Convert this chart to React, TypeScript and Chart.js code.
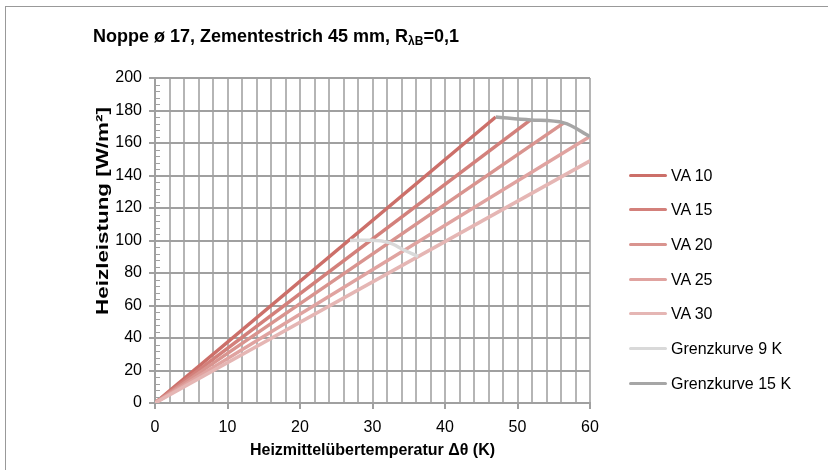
import React, { useEffect, useRef } from 'react';
import { Chart, registerables } from 'chart.js';
Chart.register(...registerables);

// Series names
const seriesNames = ['VA 10', 'VA 15', 'VA 20', 'VA 25', 'VA 30', 'Grenzkurve 9 K', 'Grenzkurve 15 K'];
const seriesColors = ['#cc6f69', '#d3807b', '#d9948f', '#e0a3a0', '#e5b6b4', '#d9d9d9', '#a6a6a6'];

// Heizmittelübertemperatur (K) / Heizleistung (W/m²)
const va10X = [0, 47];
const va10Y = [0, 176];
const va15X = [0, 51.8];
const va15Y = [0, 174.2];
const va20X = [0, 56.4];
const va20Y = [0, 172.4];
const va25X = [0, 60];
const va25Y = [0, 164];
const va30X = [0, 60];
const va30Y = [0, 149];
const grenz9X = [26.9, 29.9, 32.3, 34.4, 36.3];
const grenz9Y = [100, 100.2, 98.7, 94, 90.2];
const grenz15X = [47, 51.8, 56.4, 60];
const grenz15Y = [176, 174.2, 172.4, 164];

const xTickLabels = [0, 10, 20, 30, 40, 50, 60];
const yTickLabels = [0, 20, 40, 60, 80, 100, 120, 140, 160, 180, 200];

const FONT = "'Liberation Sans', Arial, sans-serif";

const toPts = (xs: number[], ys: number[]) => xs.map((x, i) => ({ x, y: ys[i] }));

export default function App() {
  const ref = useRef<HTMLCanvasElement | null>(null);

  useEffect(() => {
    if (!ref.current) return;
    const seriesData = [
      toPts(va10X, va10Y),
      toPts(va15X, va15Y),
      toPts(va20X, va20Y),
      toPts(va25X, va25Y),
      toPts(va30X, va30Y),
      toPts(grenz9X, grenz9Y),
      toPts(grenz15X, grenz15Y),
    ];
    const minorTicks = {
      id: 'minorTicks',
      afterDraw(chart: any) {
        const { ctx, scales } = chart;
        const y = scales.y;
        const x0 = scales.x.left;
        ctx.save();
        ctx.strokeStyle = '#a0a0a0';
        ctx.lineWidth = 1;
        for (let v = 0; v <= 200; v += 4) {
          if (v % 20 === 0) continue;
          const py = Math.round(y.getPixelForValue(v)) + 0.5;
          ctx.beginPath();
          ctx.moveTo(x0, py);
          ctx.lineTo(x0 + 5, py);
          ctx.stroke();
        }
        ctx.restore();
      },
    };
    const chart = new Chart(ref.current, {
      type: 'line',
      data: {
        datasets: seriesData.map((d, i) => ({
          label: seriesNames[i],
          data: d,
          borderColor: seriesColors[i],
          backgroundColor: seriesColors[i],
          borderWidth: 3.5,
          pointRadius: 0,
          tension: i >= 5 ? 0.35 : 0,
          cubicInterpolationMode: i >= 5 ? 'monotone' : 'default',
          fill: false,
          order: 10 - i,
        })) as any,
      },
      options: {
        animation: false,
        responsive: false,
        maintainAspectRatio: false,
        layout: { padding: { left: 0, right: 238, top: 78, bottom: 0 } },
        plugins: { legend: { display: false }, title: { display: false }, tooltip: { enabled: false } },
        scales: {
          x: {
            type: 'linear',
            min: 0,
            max: 60,
            afterFit: (s: any) => { s.height = 67; },
            ticks: {
              stepSize: 2,
              autoSkip: false,
              maxRotation: 0,
              padding: 9,
              color: '#000',
              font: { family: FONT, size: 16 },
              callback: (v: any) => (xTickLabels.includes(Number(v)) ? String(v) : ''),
            },
            grid: {
              color: '#b5b5b5',
              lineWidth: 2,
              tickLength: 6,
              tickColor: (c: any) => (c.tick && c.tick.value % 10 === 0 ? '#a0a0a0' : 'rgba(0,0,0,0)'),
            },
            border: { color: '#a0a0a0', width: 2 },
          },
          y: {
            type: 'linear',
            min: 0,
            max: 200,
            afterFit: (s: any) => { s.width = 155; },
            ticks: {
              stepSize: 4,
              autoSkip: false,
              padding: 7,
              color: '#000',
              font: { family: FONT, size: 16 },
              callback: (v: any) => (yTickLabels.includes(Number(v)) ? String(v) : ''),
            },
            grid: {
              color: (c: any) => (c.tick && c.tick.value % 20 === 0 ? '#a0a0a0' : 'rgba(0,0,0,0)'),
              lineWidth: 2,
              tickLength: 6,
              tickColor: (c: any) => (c.tick && c.tick.value % 20 === 0 ? '#a0a0a0' : 'rgba(0,0,0,0)'),
            },
            border: { color: '#a0a0a0', width: 2 },
          },
        },
      },
      plugins: [minorTicks],
    });
    return () => chart.destroy();
  }, []);

  const legendTop = 175;
  const legendStep = 34.7;

  return (
    <div style={{ position: 'fixed', left: 0, top: 0, width: 828, height: 470, overflow: 'hidden', background: '#fff', fontFamily: FONT }}>
      <div style={{ position: 'absolute', left: 5, top: 6, width: 900, height: 600, border: '1.5px solid #999' }} />
      <canvas ref={ref} width={828} height={470} style={{ position: 'absolute', left: 0, top: 0, width: 828, height: 470 }} />
      <div style={{ position: 'absolute', left: 93, top: 26, fontSize: 18, fontWeight: 'bold', lineHeight: '20px', whiteSpace: 'nowrap', color: '#000' }}>
        Noppe ø 17, Zementestrich 45 mm, R<sub style={{ fontSize: 12, verticalAlign: '-3px', lineHeight: 0 }}>λB</sub>=0,1
      </div>
      <div style={{ position: 'absolute', left: 155, width: 435, top: 440, textAlign: 'center', fontSize: 16, fontWeight: 'bold', lineHeight: '20px', whiteSpace: 'nowrap', color: '#000' }}>
        Heizmittelübertemperatur Δθ (K)
      </div>
      <div style={{ position: 'absolute', left: 103 - 150, top: 211 - 10, width: 300, textAlign: 'center', transform: 'rotate(-90deg) scaleX(1.4)', fontSize: 16, fontWeight: 'bold', lineHeight: '20px', whiteSpace: 'nowrap', color: '#000' }}>
        Heizleistung [W/m²]
      </div>
      {seriesNames.map((n, i) => (
        <div key={n}>
          <div style={{ position: 'absolute', left: 629, top: legendTop + i * legendStep - 1.5, width: 38, height: 3, background: seriesColors[i], borderRadius: 1.5 }} />
          <div style={{ position: 'absolute', left: 671, top: legendTop + i * legendStep - 9.5, fontSize: 16, lineHeight: '20px', whiteSpace: 'nowrap', color: '#000' }}>
            {n}
          </div>
        </div>
      ))}
    </div>
  );
}
